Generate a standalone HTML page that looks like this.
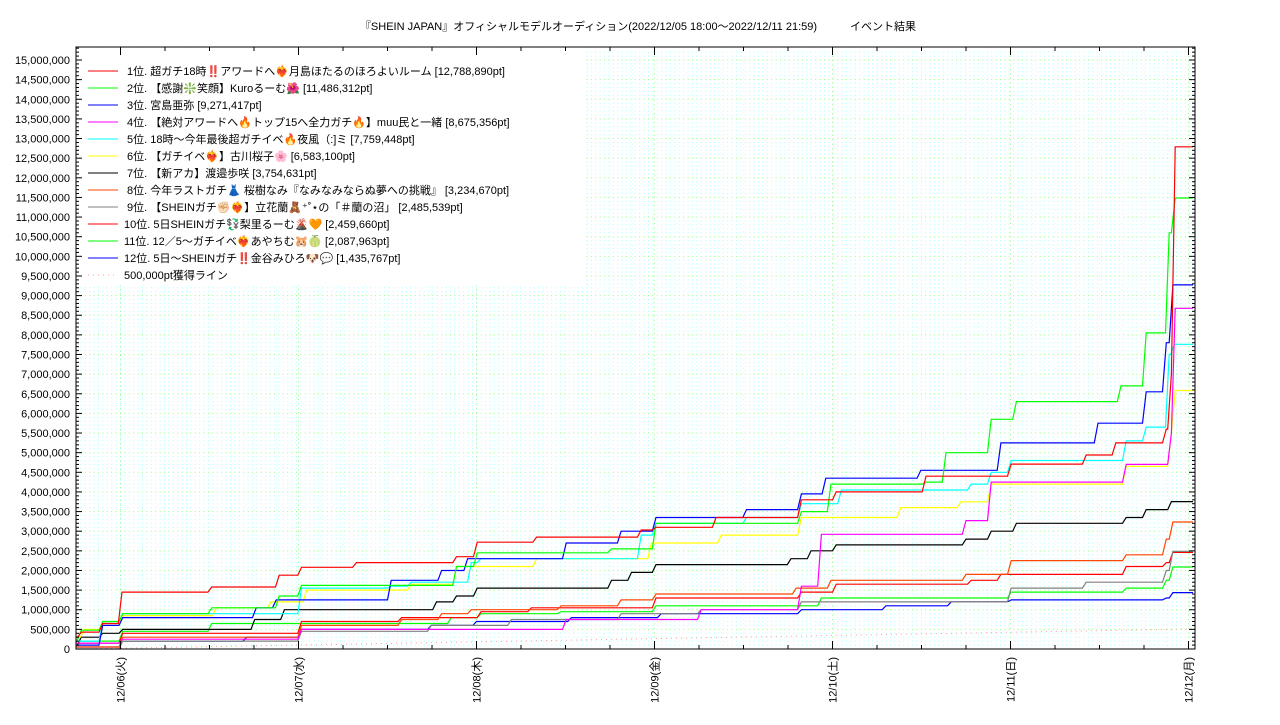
<!DOCTYPE html>
<html><head><meta charset="utf-8">
<style>
body{margin:0;background:#fff;width:1280px;height:720px;overflow:hidden;font-family:"Liberation Sans","Noto Sans CJK JP",sans-serif;}
svg text{font-family:"Liberation Sans","Noto Sans CJK JP",sans-serif;}
</style></head>
<body>
<svg id="chart" width="1280" height="720" xmlns="http://www.w3.org/2000/svg">
<text x="638" y="30" font-size="11" text-anchor="middle">『SHEIN JAPAN』オフィシャルモデルオーディション(2022/12/05 18:00～2022/12/11 21:59)　　　イベント結果</text>
<g id="grid"></g>
<rect x="77" y="48" width="508" height="237" fill="#fff"/>
<g id="series"></g>
<rect x="76" y="47" width="1119" height="602" fill="none" stroke="#000" stroke-width="1"/>
<g id="axes"></g>
<g id="legend"></g>
</svg>
<script>
const names = [
 " 1位. 超ガチ18時‼️アワードへ❤️‍🔥月島ほたるのほろよいルーム [12,788,890pt]",
 " 2位. 【感謝❇️笑顔】Kuroるーむ🌺 [11,486,312pt]",
 " 3位. 宮島亜弥 [9,271,417pt]",
 " 4位. 【絶対アワードへ🔥トップ15へ全力ガチ🔥】muu民と一緒 [8,675,356pt]",
 " 5位. 18時〜今年最後超ガチイベ🔥夜風（:]ミ [7,759,448pt]",
 " 6位. 【ガチイベ❤️‍🔥】古川桜子🌸 [6,583,100pt]",
 " 7位. 【新アカ】渡邉歩咲 [3,754,631pt]",
 " 8位. 今年ラストガチ👗 桜樹なみ『なみなみならぬ夢への挑戦』 [3,234,670pt]",
 " 9位. 【SHEINガチ✊🏻❤️‍🔥】立花蘭🧸⁺˚⋆の「＃蘭の沼」 [2,485,539pt]",
 "10位. 5日SHEINガチ💱梨里るーむ🌋🧡 [2,459,660pt]",
 "11位. 12／5〜ガチイベ❤️‍🔥あやちむ🐹🍈 [2,087,963pt]",
 "12位. 5日〜SHEINガチ‼️金谷みひろ🐶💬 [1,435,767pt]"
];
const colors = ["#ff0000","#00ff00","#0000ff","#ff00ff","#00ffff","#ffff00","#000000","#ff4500","#808080","#ff0000","#00ff00","#0000ff"];
// hours since 2022/12/05 18:00
const t1 = [0,0.5,3.4,6.0,18.1,27.2,30.2,37.6,51.1,53.9,61.9,76,78,86.1,97.6,102.3,114.4,125.9,136,140,146.8,147.5,148];
const v1 = [300000,430000,650000,1450000,1580000,1880000,2080000,2200000,2350000,2720000,2850000,3030000,3100000,3350000,3800000,4000000,4400000,4710000,4940000,5250000,5600000,7000000,12788890];
const t2 = [0,0.5,3.4,6.1,18.1,27.2,30.2,51.1,53.9,72,78,97.6,101.6,114.4,117.1,123.2,126.6,140.7,144.1,147.2,148];
const v2 = [230000,480000,700000,900000,1050000,1350000,1620000,2100000,2450000,2550000,3200000,3500000,4200000,4250000,5000000,5850000,6300000,6700000,8050000,10600000,11486312];
const t3 = [0,3.4,6.1,24.1,26.8,42.3,49.1,52.6,65.9,73.3,78,90.2,97.6,100.9,113.7,124.5,137.6,144.1,146.8,147.7];
const v3 = [100000,600000,800000,1050000,1250000,1750000,2000000,2300000,2700000,3000000,3350000,3550000,3950000,4350000,4550000,5250000,5750000,6550000,7800000,9271417];
const t4 = [0,6.1,30.2,65.9,84.1,97.6,100.3,119.8,123.2,141.4,147.5,148];
const v4 = [150000,250000,500000,750000,1000000,1600000,2920000,3270000,4250000,4700000,5500000,8675356];
const t5 = [0,3.4,6.1,30.2,42.3,45,53.1,54.4,76,78,90.2,97.6,103,120.5,123.2,125.9,141.4,144.1,147.2,147.9];
const v5 = [200000,700000,900000,1550000,1600000,1700000,2200000,2300000,2900000,3200000,3350000,3700000,4050000,4200000,4500000,4800000,5300000,5650000,7500000,7759448];
const t6 = [0,0.9,3.4,6.1,18.7,26.1,30.9,45,51.1,61.9,77.4,86.8,97.6,111,119.1,123.2,141.4,147.5,148];
const v6 = [300000,500000,650000,850000,1050000,1200000,1500000,1650000,2100000,2300000,2700000,2900000,3350000,3600000,3750000,4200000,4650000,5500000,6583100];
const t7 = [0,0.5,3.4,6.1,23.9,27.9,48.4,51.1,53.9,72,74.7,78,96.2,98.9,102.3,119.8,123.2,126.6,141.4,144.1,147.5];
const v7 = [100000,300000,400000,500000,750000,1000000,1200000,1350000,1550000,1750000,1950000,2150000,2300000,2500000,2650000,2800000,3000000,3200000,3350000,3550000,3754631];
const t8 = [0,6.1,30.2,43.7,49.1,53.1,65.2,73.3,78,96.9,101.6,119.8,125.9,141.4,146.8,147.7];
const v8 = [50000,300000,600000,750000,900000,1000000,1100000,1250000,1400000,1550000,1750000,1900000,2250000,2400000,2800000,3234670];
const t9 = [0,6.1,30.2,47.7,58.5,73.3,84.1,97.6,125.9,136,146.8,147.7];
const v9 = [0,200000,450000,600000,750000,900000,1000000,1200000,1550000,1700000,2000000,2485539];
const t10 = [0,6.1,30.2,43.7,54.4,61.2,78,97.6,102.3,120.5,124.5,141.4,146.8,147.7];
const v10 = [150000,400000,700000,800000,950000,1050000,1300000,1450000,1650000,1750000,1900000,2100000,2200000,2459660];
const t11 = [0,6.1,18.1,50.4,54.4,65.2,78,100.3,125.9,141.4,146.8,147.7];
const v11 = [200000,450000,650000,800000,900000,950000,1100000,1300000,1450000,1550000,1750000,2087963];
const t12 = [0,6.1,22.8,30.2,47.7,53.8,66.6,78.7,97.6,109,117.8,125.9,146.8,147.7];
const v12 = [50000,200000,300000,500000,600000,700000,800000,900000,1000000,1100000,1200000,1250000,1300000,1435767];
const lineT = [0,150.6];
const lineV = [0,510000];
const yTicks = [0,500000,1000000,1500000,2000000,2500000,3000000,3500000,4000000,4500000,5000000,5500000,6000000,6500000,7000000,7500000,8000000,8500000,9000000,9500000,10000000,10500000,11000000,11500000,12000000,12500000,13000000,13500000,14000000,14500000,15000000];
const xTickLabels = ["12/06(火)","12/07(水)","12/08(木)","12/09(金)","12/10(土)","12/11(日)","12/12(月)"];
const xTickHours = [6,30,54,78,102,126,150];

const NS="http://www.w3.org/2000/svg";
const L=76,R=1195,T=47,B=649,END=150.6;
const xs=h=>L+h*7.4167;
const ys=v=>B-v*589/15000000;
function mk(tag,attrs,parent){const e=document.createElementNS(NS,tag);for(const k in attrs)e.setAttribute(k,attrs[k]);parent.appendChild(e);return e;}
const grid=document.getElementById('grid');
for(let v=100000;v<15300000;v+=100000){
  const major=(v%500000===0);
  const ln=mk('line',{x1:L,x2:R,y1:ys(v),y2:ys(v),stroke:major?'#88ff88':'#aaffff','stroke-width':1,'stroke-dasharray':'1 3.4'},grid);
  
  
}
for(let h=0;h<END;h+=3){
  const major=((h-6)%24===0);
  const ln=mk('line',{x1:xs(h),x2:xs(h),y1:T,y2:B,stroke:major?'#88ff88':'#c8ffff','stroke-width':1,'stroke-dasharray':'1 3.4'},grid);
  
  
}
const ser=document.getElementById('series');
// 500k line
const pl=mk('polyline',{points:lineT.map((t,i)=>xs(t)+','+ys(lineV[i])).join(' '),fill:'none',stroke:'#ff9999','stroke-width':1,'stroke-dasharray':'1 4'},ser);


const TS=[t1,t2,t3,t4,t5,t6,t7,t8,t9,t10,t11,t12],VS=[v1,v2,v3,v4,v5,v6,v7,v8,v9,v10,v11,v12];
for(let s=11;s>=0;s--){
  const t=TS[s],v=VS[s];let pts=[[xs(t[0]),ys(v[0])]];
  for(let i=1;i<t.length;i++){pts.push([xs(t[i]-0.3),ys(v[i-1])]);pts.push([xs(t[i]+0.2),ys(v[i])]);}
  pts.push([xs(END),ys(v[v.length-1])]);
  const p=mk('polyline',{points:pts.map(q=>q[0].toFixed(1)+','+q[1].toFixed(1)).join(' '),fill:'none',stroke:colors[s],'stroke-width':1.2},ser);
  
  
}
const ax=document.getElementById('axes');
yTicks.forEach(v=>{
  const tx=mk('text',{x:70,y:ys(v)+4,'font-size':11,'text-anchor':'end'},ax);
  tx.textContent=v.toLocaleString('en-US');
  
  
});
for(let v=0;v<=15300000;v+=100000){
  const len=(v%500000===0)?6:3;
  mk('line',{x1:L,x2:L+len,y1:ys(v),y2:ys(v),stroke:'#000'},ax);
  mk('line',{x1:R,x2:R-len,y1:ys(v),y2:ys(v),stroke:'#000'},ax);
}
for(let h=0;h<=END;h+=6){
  const len=((h-6)%24===0)?8:4;
  mk('line',{x1:xs(h),x2:xs(h),y1:B,y2:B-len,stroke:'#000'},ax);
  mk('line',{x1:xs(h),x2:xs(h),y1:T,y2:T+len,stroke:'#000'},ax);
}
xTickLabels.forEach((lab,i)=>{
  const x=xs(xTickHours[i])+4,y=657;
  const tx=mk('text',{x:x,y:y,'font-size':11,'text-anchor':'end',transform:`rotate(-90 ${x} ${y})`},ax);
  tx.textContent=lab;
  
  
});
const lg=document.getElementById('legend');
names.forEach((n,i)=>{
  const y=71+i*17;
  const ln=mk('line',{x1:88,x2:118,y1:y,y2:y,stroke:colors[i],'stroke-width':1},lg);
  
  
  const tx=mk('text',{x:124,y:y+4,'font-size':11,'xml:space':'preserve'},lg);
  tx.setAttribute('style','white-space:pre');
  tx.textContent=n;
  
  
});
const y5=71+12*17;
const l5=mk('line',{x1:88,x2:118,y1:y5,y2:y5,stroke:'#ff9999','stroke-dasharray':'1 4'},lg);


const t5x=mk('text',{x:124,y:y5+4,'font-size':11},lg);
t5x.textContent='500,000pt獲得ライン';


</script>
</body></html>
